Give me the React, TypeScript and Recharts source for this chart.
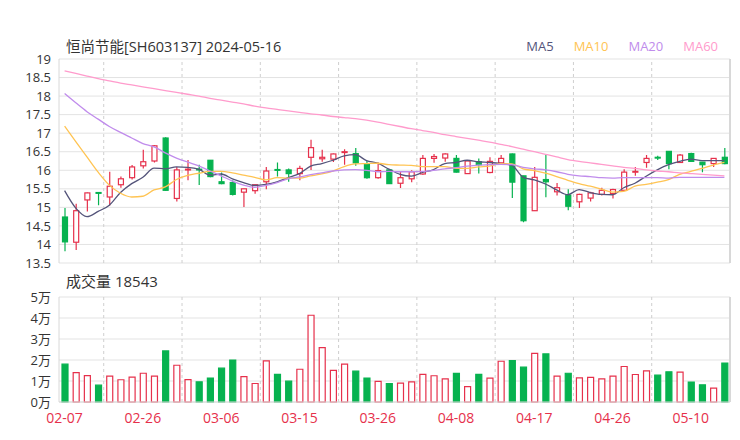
import React from 'react';
import { ComposedChart, Bar, Line, XAxis, YAxis, CartesianGrid, ReferenceLine, Cell } from 'recharts';

const dates = [
  '02-07', '02-08', '02-19', '02-20', '02-21', '02-22', '02-23', '02-26', '02-27', '02-28',
  '02-29', '03-01', '03-04', '03-05', '03-06', '03-07', '03-08', '03-11', '03-12', '03-13',
  '03-14', '03-15', '03-18', '03-19', '03-20', '03-21', '03-22', '03-25', '03-26', '03-27',
  '03-28', '03-29', '04-01', '04-02', '04-03', '04-08', '04-09', '04-10', '04-11', '04-12',
  '04-15', '04-16', '04-17', '04-18', '04-19', '04-22', '04-23', '04-24', '04-25', '04-26',
  '04-29', '04-30', '05-06', '05-07', '05-08', '05-09', '05-10', '05-13', '05-14', '05-16',
];

const opens = [
  14.74, 14.06, 15.2, 15.4, 15.28, 15.61, 15.8, 16.12, 16.25, 16.87,
  15.24, 16.01, 16.03, 16.27, 15.69, 15.67, 15.41, 15.45, 15.69, 16.02,
  16.01, 15.91, 16.35, 16.31, 16.3, 16.49, 16.45, 16.17, 15.8, 16.01,
  15.65, 15.77, 15.9, 16.32, 16.33, 16.32, 15.91, 16.23, 15.94, 16.2,
  16.44, 15.85, 14.91, 15.75, 15.42, 15.33, 15.15, 15.25, 15.35, 15.37,
  15.46, 15.95, 16.21, 16.35, 16.51, 16.21, 16.45, 16.22, 16.18, 16.35,
];
const closes = [
  14.07, 14.91, 15.39, 15.38, 15.57, 15.77, 16.09, 16.23, 16.66, 15.46,
  16.01, 16.03, 16.01, 15.83, 15.64, 15.35, 15.5, 15.61, 15.98, 16.0,
  15.91, 16.05, 16.61, 16.35, 16.44, 16.5, 16.2, 15.8, 15.99, 15.64,
  15.8, 15.96, 16.32, 16.37, 16.44, 15.95, 16.25, 16.15, 16.24, 16.32,
  15.68, 14.64, 15.81, 15.69, 15.53, 15.03, 15.35, 15.39, 15.46, 15.48,
  15.95, 15.97, 16.32, 16.34, 16.18, 16.41, 16.24, 16.15, 16.32, 16.18,
];
const highs = [
  14.98, 15.1, 15.4, 15.41, 15.96, 15.83, 16.14, 16.55, 16.68, 16.89,
  16.09, 16.28, 16.15, 16.28, 15.94, 15.73, 15.5, 15.61, 16.09, 16.21,
  16.05, 16.12, 16.82, 16.55, 16.45, 16.57, 16.6, 16.25, 16.21, 16.03,
  15.98, 16.0, 16.41, 16.44, 16.46, 16.41, 16.28, 16.32, 16.35, 16.41,
  16.45, 15.85, 16.09, 16.41, 15.66, 15.49, 15.37, 15.42, 15.53, 15.5,
  16.03, 16.09, 16.41, 16.39, 16.51, 16.44, 16.47, 16.22, 16.32, 16.6,
];
const lows = [
  13.82, 13.85, 14.89, 15.06, 15.05, 15.53, 15.75, 16.05, 16.21, 15.45,
  15.16, 15.73, 15.6, 15.81, 15.62, 15.32, 15.01, 15.37, 15.49, 15.83,
  15.69, 15.73, 16.01, 16.23, 16.22, 16.15, 16.12, 15.77, 15.77, 15.63,
  15.52, 15.68, 15.88, 16.2, 16.23, 15.94, 15.91, 15.91, 15.92, 16.18,
  15.25, 14.6, 14.9, 15.27, 15.32, 14.92, 14.98, 15.16, 15.32, 15.24,
  15.46, 15.85, 16.07, 16.28, 16.03, 16.21, 16.24, 15.95, 16.09, 16.16,
];

const ma5 = [
  15.45, 14.98, 14.75, 14.89, 15.06, 15.4, 15.64, 15.81, 16.06, 16.04,
  16.09, 16.08, 16.03, 15.87, 15.9, 15.77, 15.67, 15.59, 15.62, 15.69,
  15.8, 15.91, 16.11, 16.18, 16.27, 16.39, 16.42, 16.26, 16.19, 16.03,
  15.89, 15.84, 15.94, 16.02, 16.18, 16.21, 16.27, 16.23, 16.21, 16.18,
  16.13, 15.81, 15.74, 15.63, 15.47, 15.34, 15.48, 15.4, 15.35, 15.34,
  15.53, 15.65, 15.84, 16.01, 16.15, 16.24, 16.3, 16.26, 16.26, 16.26,
];
const ma10 = [
  17.19, 16.77, 16.36, 15.95, 15.6, 15.38, 15.28, 15.3, 15.47, 15.55,
  15.75, 15.86, 15.92, 15.97, 15.97, 15.93, 15.87, 15.81, 15.74, 15.8,
  15.79, 15.79, 15.85, 15.9, 15.98, 16.1, 16.17, 16.18, 16.19, 16.15,
  16.14, 16.13, 16.1, 16.1, 16.1, 16.05, 16.05, 16.09, 16.11, 16.18,
  16.17, 16.04, 15.99, 15.92, 15.83, 15.73, 15.64, 15.57, 15.49, 15.41,
  15.43, 15.57, 15.62, 15.68, 15.75, 15.89, 15.97, 16.05, 16.14, 16.21,
];
const ma20 = [
  18.07, 17.82, 17.58, 17.38, 17.18, 17.02, 16.87, 16.72, 16.63, 16.47,
  16.33, 16.22, 16.12, 15.98, 15.85, 15.71, 15.6, 15.54, 15.59, 15.67,
  15.77, 15.82, 15.88, 15.93, 15.98, 16.01, 16.02, 16.0, 15.96, 15.97,
  15.96, 15.96, 15.97, 16.0, 16.04, 16.07, 16.11, 16.14, 16.15, 16.16,
  16.15, 16.08, 16.04, 16.01, 15.96, 15.89, 15.85, 15.83, 15.8, 15.79,
  15.8, 15.8, 15.8, 15.8, 15.79, 15.81, 15.81, 15.81, 15.81, 15.81,
];
const ma60 = [
  18.68, 18.61, 18.54, 18.47, 18.41, 18.35, 18.3, 18.25, 18.2, 18.15,
  18.1, 18.05, 18.0, 17.94, 17.89, 17.84, 17.79, 17.73, 17.68, 17.64,
  17.6, 17.56, 17.52, 17.49, 17.45, 17.42, 17.39, 17.35, 17.3, 17.24,
  17.18, 17.12, 17.07, 17.02, 16.96, 16.91, 16.86, 16.81, 16.76, 16.7,
  16.64, 16.57, 16.5, 16.43, 16.36, 16.29, 16.24, 16.2, 16.16, 16.12,
  16.08, 16.05, 16.01, 15.98, 15.96, 15.93, 15.91, 15.89, 15.87, 15.85,
];

const volumes = [
  18000, 14000, 12600, 8000, 12300, 10600, 11800, 13700, 12300, 24300,
  17500, 10700, 9600, 11400, 16100, 20000, 12100, 8800, 19600, 13200,
  9900, 15600, 41300, 25900, 15100, 18000, 14700, 11400, 9800, 8800,
  9000, 9600, 13200, 12500, 11000, 13600, 7300, 13200, 11400, 19400,
  19700, 16600, 23200, 22900, 12300, 13700, 11500, 11700, 11000, 12300,
  16900, 13100, 14800, 12800, 14400, 14200, 9500, 8200, 6600, 18543,
];

const xTicks = ['02-07', '02-26', '03-06', '03-15', '03-26', '04-08', '04-17', '04-26', '05-10'];
const gridDates = ['02-21', '03-01', '03-12', '03-21', '04-01', '04-12', '04-23', '05-07'];
const priceTicks = [13.5, 14, 14.5, 15, 15.5, 16, 16.5, 17, 17.5, 18, 18.5, 19];
const volTicks = [0, 10000, 20000, 30000, 40000, 50000];

const maSeries = [
  { key: 'ma5', name: 'MA5', color: '#54547a' },
  { key: 'ma10', name: 'MA10', color: '#ffc453' },
  { key: 'ma20', name: 'MA20', color: '#c08cec' },
  { key: 'ma60', name: 'MA60', color: '#ff9bcc' },
];

const FONT = "'Open Sans', 'Noto Sans CJK SC', sans-serif";
const RED = '#e6304b';
const GREEN = '#06b24f';
const GRID = '#e3e3e3';
const BORDER = '#d8d8d8';
const VGRID = '#cfcfcf';

const data = dates.map((d, i) => ({
  date: d,
  open: opens[i],
  close: closes[i],
  high: highs[i],
  low: lows[i],
  ma5: ma5[i],
  ma10: ma10[i],
  ma20: ma20[i],
  ma60: ma60[i],
  vol: volumes[i],
}));

const candleRange = (d: any) => [d.low, d.high];

const Candle = (props: any) => {
  const { x, y, width, height, payload } = props;
  if (!payload) return null;
  const { open, close, high, low } = payload;
  const up = close >= open;
  const color = up ? RED : GREEN;
  const range = high - low;
  const py = (v: number) => (range === 0 ? y : y + ((high - v) / range) * height);
  const cx = x + width / 2;
  const top = py(Math.max(open, close));
  const bot = py(Math.min(open, close));
  const bh = Math.max(bot - top, 0.8);
  return (
    <g>
      <line x1={cx} x2={cx} y1={y} y2={y + height} stroke={color} strokeWidth={1.2} />
      <rect
        x={x + 0.5}
        y={top}
        width={width - 1}
        height={bh}
        fill={up ? '#ffffff' : color}
        stroke={color}
        strokeWidth={1.2}
      />
    </g>
  );
};

const tickStyle = { fontSize: 13, fill: '#333', fontFamily: FONT };

export default function App() {
  const lastVol = volumes[volumes.length - 1];
  return (
    <div
      style={{
        position: 'absolute',
        left: 0,
        top: 0,
        width: 740,
        height: 440,
        background: '#fff',
        fontFamily: FONT,
        overflow: 'hidden',
      }}
    >
      <div style={{ position: 'absolute', left: 0, top: 270 }}>
        <ComposedChart width={740} height={170} data={data} margin={{ top: 27, right: 10, bottom: 8, left: 0 }}>
          <CartesianGrid vertical={false} stroke={GRID} />
          <XAxis
            dataKey="date"
            ticks={xTicks}
            interval={0}
            height={30}
            tickLine={false}
            tickMargin={5}
            axisLine={{ stroke: BORDER }}
            tick={{ fontSize: 14, fill: RED, fontFamily: FONT }}
          />
          <YAxis
            domain={[0, 50000]}
            ticks={volTicks}
            interval={0}
            width={59}
            tickFormatter={(v: number) => `${v / 10000}万`}
            axisLine={{ stroke: BORDER }}
            tickLine={false}
            tick={tickStyle}
          />
          {gridDates.map((d) => (
            <ReferenceLine key={d} x={d} position="start" stroke={VGRID} strokeDasharray="3 3" />
          ))}
          <ReferenceLine x={dates[dates.length - 1]} position="end" stroke={BORDER} strokeWidth={2} />
          <Bar dataKey="vol" barSize={6} isAnimationActive={false}>
            {data.map((d, i) => {
              const up = d.close >= d.open;
              return <Cell key={i} fill={up ? '#ffffff' : GREEN} stroke={up ? RED : GREEN} strokeWidth={1.2} />;
            })}
          </Bar>
        </ComposedChart>
      </div>

      <div style={{ position: 'absolute', left: 0, top: 0 }}>
        <ComposedChart width={740} height={276} data={data} margin={{ top: 59, right: 10, bottom: 13, left: 0 }}>
          <CartesianGrid vertical={false} stroke={GRID} />
          <XAxis dataKey="date" hide />
          <YAxis
            domain={[13.5, 19]}
            ticks={priceTicks}
            interval={0}
            width={59}
            allowDataOverflow
            axisLine={{ stroke: BORDER }}
            tickLine={false}
            tick={tickStyle}
          />
          {gridDates.map((d) => (
            <ReferenceLine key={d} x={d} position="start" stroke={VGRID} strokeDasharray="3 3" />
          ))}
          <ReferenceLine x={dates[dates.length - 1]} position="end" stroke={BORDER} strokeWidth={2} />
          {maSeries.map((s) => (
            <Line
              key={s.key}
              type="monotone"
              dataKey={s.key}
              name={s.name}
              stroke={s.color}
              strokeWidth={1.3}
              dot={false}
              activeDot={false}
              isAnimationActive={false}
            />
          ))}
          <Bar dataKey={candleRange} barSize={6} shape={<Candle />} isAnimationActive={false} />
        </ComposedChart>
      </div>

      <div
        style={{
          position: 'absolute',
          left: 66,
          top: 37,
          fontSize: 14.5,
          lineHeight: '20px',
          color: '#333',
          whiteSpace: 'nowrap',
        }}
      >
        恒尚节能[SH603137] 2024-05-16
      </div>
      <div
        style={{
          position: 'absolute',
          right: 22,
          top: 37,
          display: 'flex',
          gap: 20,
          fontSize: 13,
          lineHeight: '18px',
          whiteSpace: 'nowrap',
        }}
      >
        {maSeries.map((s) => (
          <span key={s.key} style={{ color: s.color }}>
            {s.name}
          </span>
        ))}
      </div>
      <div
        style={{
          position: 'absolute',
          left: 66,
          top: 271,
          fontSize: 15,
          lineHeight: '20px',
          color: '#333',
          whiteSpace: 'nowrap',
        }}
      >
        成交量 {lastVol}
      </div>
    </div>
  );
}
